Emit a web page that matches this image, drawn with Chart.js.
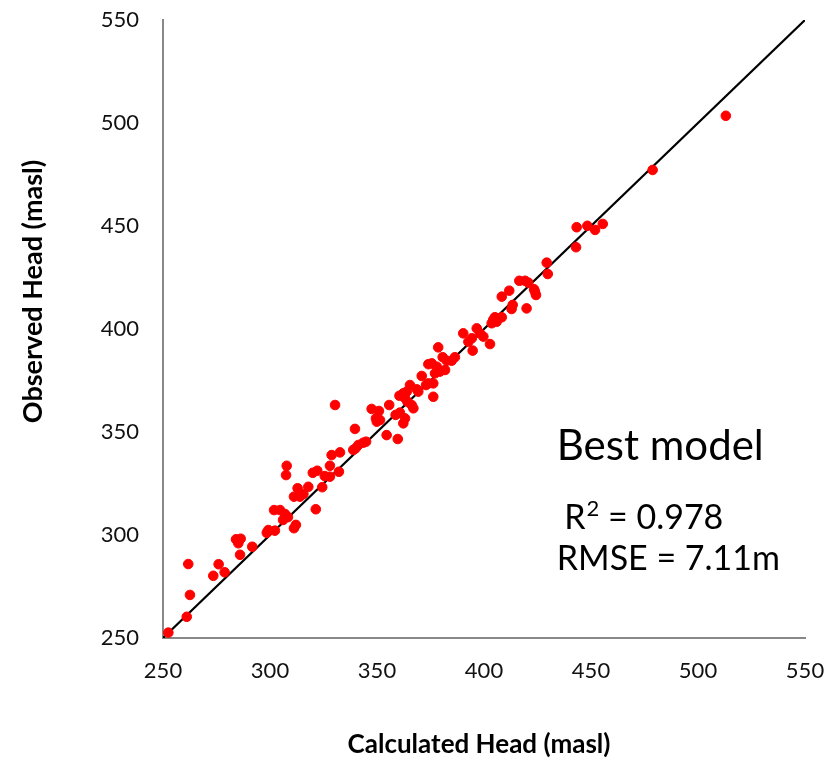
<!DOCTYPE html>
<html>
<head>
<meta charset="utf-8">
<script src="https://cdn.jsdelivr.net/npm/chart.js@4"></script>
<style>
  html, body { margin: 0; padding: 0; background: #fff; }
  #wrap { width: 839px; height: 761px; }
</style>
</head>
<body>
<div id="wrap"><canvas id="myChart" width="839" height="761"></canvas></div>
<script>
// calculated head (x) vs observed head (y), masl
const calcHead = [
  252.5, 261.1, 262.6, 261.8, 273.5, 276.0, 278.8, 286.0, 285.2, 284.1,
  286.3, 291.7, 298.5, 299.2, 302.3, 301.9, 304.7, 307.0, 308.4, 306.1,
  311.2, 312.1, 307.8, 307.5, 312.9, 311.2, 314.0, 315.6, 317.9, 321.4,
  324.4, 320.0, 322.1, 325.6, 328.0, 328.0, 332.2, 328.8, 332.7, 330.4,
  339.7, 340.0, 341.3, 343.6, 344.9, 338.9, 347.5, 350.9, 349.5, 351.4,
  349.9, 355.7, 354.5, 359.7, 358.7, 360.7, 363.1, 362.3, 360.5, 362.3,
  363.9, 365.4, 367.0, 366.2, 364.2, 363.1, 369.3, 368.6, 370.9, 374.0,
  372.9, 376.3, 376.3, 374.0, 375.6, 377.1, 379.4, 381.8, 377.9, 378.6,
  380.7, 382.6, 384.9, 386.4, 390.3, 392.7, 394.3, 396.6, 398.1, 399.7,
  394.7, 402.8, 403.6, 405.1, 406.7, 408.3, 404.3, 405.9, 412.9, 413.4,
  419.9, 408.3, 411.8, 416.5, 419.2, 420.7, 423.8, 424.3, 423.4, 429.8,
  429.3, 443.0, 443.3, 448.3, 451.9, 455.5, 478.8, 513.0
];
const obsHead = [
  252.6, 260.3, 270.9, 285.9, 280.2, 285.8, 281.9, 290.4, 296.0, 297.9,
  298.2, 294.3, 301.1, 302.4, 302.1, 312.1, 312.1, 310.2, 308.7, 307.3,
  303.3, 304.9, 333.6, 329.1, 322.7, 318.6, 318.6, 319.9, 323.4, 312.5,
  323.2, 330.2, 331.2, 328.6, 328.3, 333.6, 330.7, 338.8, 340.1, 363.1,
  351.5, 342.1, 343.7, 344.8, 345.3, 341.3, 361.2, 360.2, 356.6, 355.8,
  355.0, 363.1, 348.5, 346.6, 358.3, 359.4, 356.6, 354.2, 367.6, 368.8,
  369.6, 372.8, 361.5, 363.1, 364.7, 366.4, 369.6, 370.7, 377.2, 373.6,
  372.8, 367.1, 373.6, 382.9, 383.3, 378.5, 379.3, 380.1, 381.7, 391.1,
  386.3, 384.6, 384.6, 386.3, 397.9, 393.8, 395.5, 400.3, 397.9, 396.3,
  389.5, 392.7, 402.8, 405.7, 405.2, 405.7, 404.4, 403.5, 409.7, 411.7,
  410.0, 415.7, 418.6, 423.4, 423.4, 422.5, 418.1, 416.5, 419.3, 426.7,
  432.2, 439.7, 449.4, 450.1, 448.1, 451.0, 477.2, 503.5
];
const lineX = [250, 550];
const tickVals = [250, 300, 350, 400, 450, 500, 550];

const pts = calcHead.map((x, i) => ({ x: x, y: obsHead[i] }));
const onetoone = lineX.map(v => ({ x: v, y: v }));

const FONT = 'Lato, "Open Sans", sans-serif';

const notes = {
  id: 'notes',
  afterDraw(chart) {
    const c = chart.ctx;
    const xs = chart.scales.x, ys = chart.scales.y;
    c.save();
    c.fillStyle = '#000';

    // axis titles
    c.textAlign = 'center';
    c.textBaseline = 'middle';
    c.font = 'bold 26px ' + FONT;
    c.fillText('Calculated Head (masl)', 479, 745);
    c.save();
    c.translate(33, 291.5);
    c.rotate(-Math.PI / 2);
    c.font = 'bold 27px ' + FONT;
    c.fillText('Observed Head (masl)', 0, 0);
    c.restore();

    // annotation
    c.textBaseline = 'alphabetic';
    c.textAlign = 'left';
    c.font = '42px ' + FONT;
    c.fillText('Best model', xs.getPixelForValue(434), ys.getPixelForValue(336.4));
    c.font = '34px ' + FONT;
    let x0 = xs.getPixelForValue(437.5);
    let y0 = ys.getPixelForValue(302.9);
    c.fillText('R', x0, y0);
    let w = c.measureText('R').width;
    c.font = '22px ' + FONT;
    c.fillText('2', x0 + w + 1, y0 - 13);
    let w2 = c.measureText('2').width;
    c.font = '34px ' + FONT;
    c.fillText(' = 0.978', x0 + w + w2 + 1, y0);
    c.fillText('RMSE = 7.11m', xs.getPixelForValue(434), ys.getPixelForValue(283));
    c.restore();
  }
};

const ctx = document.getElementById('myChart');

const chart = new Chart(ctx, {
  type: 'scatter',
  data: {
    datasets: [{
      label: 'Observed vs Calculated',
      data: pts,
      backgroundColor: '#ff0000',
      borderColor: '#ff0000',
      pointRadius: 4.8,
      pointHoverRadius: 4.8,
      order: 1
    }, {
      label: '1:1',
      type: 'line',
      data: onetoone,
      borderColor: '#000',
      borderWidth: 2.2,
      pointRadius: 0,
      fill: false,
      order: 2
    }]
  },
  options: {
    responsive: false,
    animation: false,
    layout: { padding: { top: 20, right: 34, left: 0, bottom: 0 } },
    plugins: {
      legend: { display: false },
      tooltip: { enabled: false }
    },
    scales: {
      x: {
        type: 'linear',
        min: 250, max: 550,
        afterBuildTicks: s => { s.ticks = tickVals.map(v => ({ value: v })); },
        afterFit: s => { s.height = 123; s.paddingLeft = 0; s.paddingRight = 0; },
        grid: { display: false, drawTicks: false },
        border: { color: '#888', width: 2 },
        ticks: { color: '#111', font: { family: FONT, size: 22 }, padding: 20 },
        title: { display: false }
      },
      y: {
        type: 'linear',
        min: 250, max: 550,
        afterBuildTicks: s => { s.ticks = tickVals.map(v => ({ value: v })); },
        afterFit: s => { s.width = 163; s.paddingTop = 0; s.paddingBottom = 0; },
        grid: { display: false, drawTicks: false },
        border: { color: '#888', width: 2 },
        ticks: { color: '#111', font: { family: FONT, size: 22 }, padding: 24 },
        title: { display: false }
      }
    }
  },
  plugins: [notes]
});
</script>
</body>
</html>
